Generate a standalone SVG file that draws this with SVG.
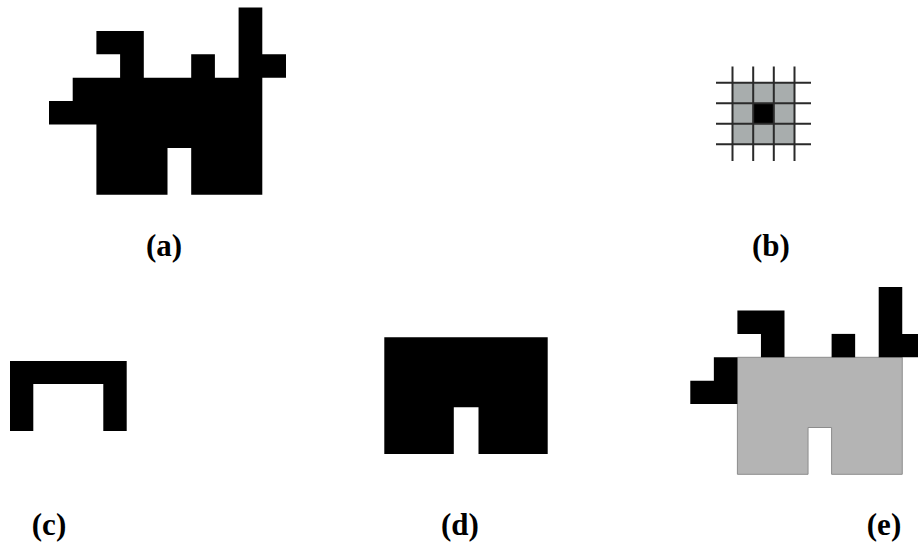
<svg xmlns="http://www.w3.org/2000/svg" width="918" height="544" viewBox="0 0 918 544">
<style>
.blk{fill:#000}
.gry{fill:#b4b4b4;stroke:#8c8c8c;stroke-width:1}
.grid{stroke:#2a2a2a;stroke-width:2;fill:none}
.lbl{font-family:"Liberation Serif","Times New Roman",serif;font-weight:bold;font-size:31px;fill:#000;text-anchor:middle}
</style>
<rect width="918" height="544" fill="#fff"/>
<g id="a">
<polygon class="blk" points="238.6,7.5 262.3,7.5 262.3,54.3 286,54.3 286,77.7 262.3,77.7 262.3,194.7 191.2,194.7 191.2,147.9 167.5,147.9 167.5,194.7 96.4,194.7 96.4,124.5 49,124.5 49,101.1 72.7,101.1 72.7,77.7 120.1,77.7 120.1,54.3 96.4,54.3 96.4,30.9 143.8,30.9 143.8,77.7 191.2,77.7 191.2,54.3 214.9,54.3 214.9,77.7 238.6,77.7"/>
<text class="lbl" x="164" y="256">(a)</text>
</g>
<g id="b">
<rect x="732.5" y="82.7" width="62" height="61.5" fill="#a8adad"/>
<rect x="753.2" y="103.2" width="20.6" height="20.5" fill="#000"/>
<path class="grid" d="M732.5,66.5V161M753.2,66.5V161M773.8,66.5V161M794.5,66.5V161M716,82.7H811M716,103.2H811M716,123.7H811M716,144.2H811"/>
<text class="lbl" x="771" y="256">(b)</text>
</g>
<g id="c">
<polygon class="blk" points="10,361 126.7,361 126.7,431 103.3,431 103.3,384 33.3,384 33.3,431 10,431"/>
<text class="lbl" x="49" y="535">(c)</text>
</g>
<g id="d">
<polygon class="blk" points="384.3,337.3 547.7,337.3 547.7,454 478.5,454 478.5,407.3 453.8,407.3 453.8,454 384.3,454"/>
<text class="lbl" x="460" y="535">(d)</text>
</g>
<g id="e">
<polygon class="gry" points="737.4,357.3 902.25,357.3 902.25,474.3 831.6,474.3 831.6,427.5 808.05,427.5 808.05,474.3 737.4,474.3"/>
<polygon class="blk" points="737.4,310.5 784.5,310.5 784.5,357.3 760.95,357.3 760.95,333.9 737.4,333.9"/>
<rect class="blk" x="831.6" y="333.9" width="23.55" height="23.4"/>
<polygon class="blk" points="878.7,287.1 902.25,287.1 902.25,333.9 925.8,333.9 925.8,357.3 878.7,357.3"/>
<polygon class="blk" points="713.85,357.3 737.4,357.3 737.4,404.1 690.3,404.1 690.3,380.7 713.85,380.7"/>
<text class="lbl" x="884" y="535">(e)</text>
</g>
<g id="connectors"/>
</svg>
